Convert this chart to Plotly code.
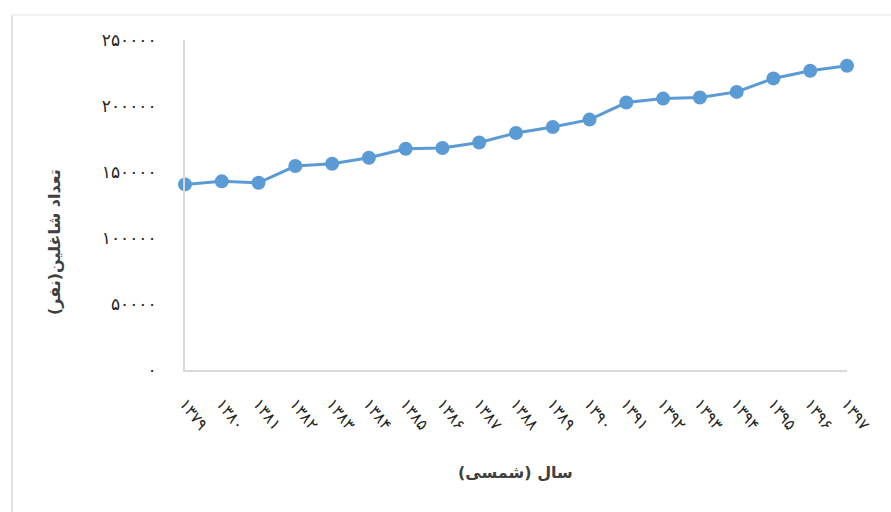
import plotly.graph_objects as go

years = ["۱۳۷۹", "۱۳۸۰", "۱۳۸۱", "۱۳۸۲", "۱۳۸۳", "۱۳۸۴", "۱۳۸۵", "۱۳۸۶", "۱۳۸۷", "۱۳۸۸",
         "۱۳۸۹", "۱۳۹۰", "۱۳۹۱", "۱۳۹۲", "۱۳۹۳", "۱۳۹۴", "۱۳۹۵", "۱۳۹۶", "۱۳۹۷"]
employed = [140600, 142900, 141800, 154500, 156300, 160800, 167600, 168200, 172300, 179600,
            184100, 189700, 202600, 205600, 206400, 210700, 220900, 226700, 230500]
ytick_vals = [0, 50000, 100000, 150000, 200000, 250000]
ytick_text = ["۰", "۵۰۰۰۰", "۱۰۰۰۰۰", "۱۵۰۰۰۰", "۲۰۰۰۰۰", "۲۵۰۰۰۰"]
x_title = "سال (شمسی)"
y_title = "تعداد شاغلین(نفر)"

W, H = 891, 512
L, R, T, B = 185, 44, 40, 142
pw, ph = W - L - R, H - T - B

def px(x):
    return (x - L) / pw

def py(y):
    return (H - B - y) / ph

fig = go.Figure()
fig.add_trace(go.Scatter(
    x=years, y=employed, mode="lines+markers",
    line=dict(color="#5B9BD5", width=3),
    marker=dict(color="#5B9BD5", size=14),
    cliponaxis=False, showlegend=False,
))

font_fam = "DejaVu Sans"
fig.update_layout(
    width=W, height=H,
    margin=dict(l=L, r=R, t=T, b=B, pad=0),
    paper_bgcolor="white", plot_bgcolor="white",
    font=dict(family=font_fam, color="#404040"),
    xaxis=dict(
        type="category", range=[0, len(years) - 1],
        showgrid=False, zeroline=False,
        showline=True, linecolor="#D9D9D9", linewidth=2,
        ticks="", tickangle=52,
        tickfont=dict(size=16, color="#262626"),
        ticklabelstandoff=16,
    ),
    yaxis=dict(
        range=[0, 250000], tickvals=ytick_vals, ticktext=ytick_text,
        showgrid=False, zeroline=False,
        showline=True, linecolor="#D9D9D9", linewidth=2,
        ticks="", tickfont=dict(size=17, color="#262626"),
        ticklabelstandoff=23,
    ),
    shapes=[
        dict(type="line", xref="paper", yref="paper", x0=px(12), x1=px(12), y0=py(15), y1=py(H),
             line=dict(color="#D9D9D9", width=1.5)),
        dict(type="line", xref="paper", yref="paper", x0=px(12), x1=px(W), y0=py(15), y1=py(15),
             line=dict(color="#EEEEEE", width=1.5)),
    ],
    annotations=[
        dict(text="<b>" + y_title + "</b>", xref="paper", yref="paper", x=px(55), y=py(242),
             xanchor="center", yanchor="middle",
             textangle=-90, showarrow=False, font=dict(size=16, color="#404040")),
        dict(text="<b>" + x_title + "</b>", xref="paper", yref="paper", x=px(515), y=py(472),
             xanchor="center", yanchor="middle",
             showarrow=False, font=dict(size=16, color="#404040")),
    ],
)

fig.write_html("out.html", config={"displayModeBar": False},
               post_script="document.body.style.margin='0';")
